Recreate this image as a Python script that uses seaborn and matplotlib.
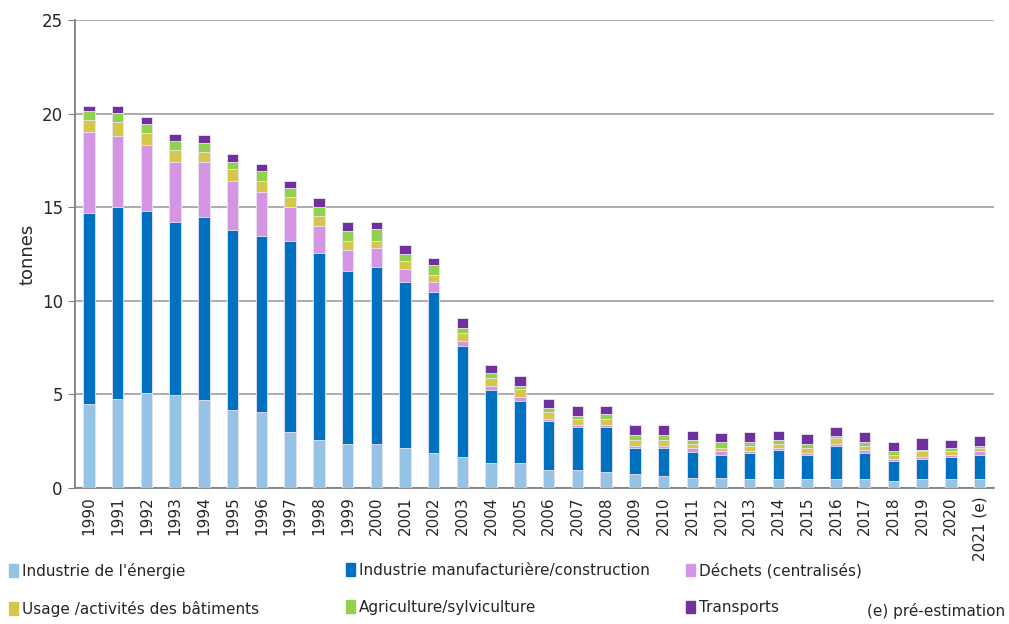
import matplotlib
matplotlib.use("Agg")
import matplotlib.pyplot as plt
import matplotlib.patches as mpatches
import numpy as np
import pandas as pd
import seaborn as sns

# Données (tonnes)
annees = ["1990", "1991", "1992", "1993", "1994", "1995", "1996", "1997", "1998", "1999",
          "2000", "2001", "2002", "2003", "2004", "2005", "2006", "2007", "2008", "2009",
          "2010", "2011", "2012", "2013", "2014", "2015", "2016", "2017", "2018", "2019",
          "2020", "2021 (e)"]

energie = [4.49, 4.77, 5.07, 4.99, 4.68, 4.17, 4.08, 2.97, 2.56, 2.35, 2.35, 2.15, 1.87,
           1.66, 1.35, 1.35, 0.94, 0.94, 0.85, 0.75, 0.64, 0.55, 0.55, 0.46, 0.46, 0.46,
           0.46, 0.46, 0.36, 0.46, 0.46, 0.46]
manufacturiere = [10.22, 10.22, 9.75, 9.20, 9.81, 9.63, 9.40, 10.22, 10.01, 9.24, 9.44, 8.84,
                  8.62, 5.91, 3.90, 3.31, 2.62, 2.32, 2.41, 1.40, 1.51, 1.39, 1.20, 1.39,
                  1.59, 1.29, 1.80, 1.39, 1.10, 1.09, 1.18, 1.29]
dechets = [4.32, 3.83, 3.51, 3.24, 2.94, 2.62, 2.33, 1.80, 1.44, 1.11, 1.01, 0.69, 0.50,
           0.30, 0.22, 0.20, 0.11, 0.11, 0.11, 0.11, 0.11, 0.21, 0.21, 0.11, 0.10, 0.10,
           0.11, 0.20, 0.09, 0.11, 0.11, 0.21]
batiments = [0.61, 0.72, 0.62, 0.61, 0.50, 0.60, 0.61, 0.55, 0.50, 0.51, 0.41, 0.43, 0.40,
             0.39, 0.39, 0.41, 0.41, 0.30, 0.30, 0.29, 0.29, 0.20, 0.19, 0.30, 0.22, 0.30,
             0.28, 0.21, 0.21, 0.30, 0.21, 0.19]
agriculture = [0.50, 0.48, 0.50, 0.48, 0.50, 0.39, 0.50, 0.47, 0.50, 0.50, 0.61, 0.39, 0.51,
               0.30, 0.30, 0.20, 0.19, 0.19, 0.30, 0.30, 0.30, 0.20, 0.31, 0.20, 0.19, 0.22,
               0.11, 0.20, 0.20, 0.09, 0.19, 0.11]
transports = [0.28, 0.40, 0.39, 0.41, 0.41, 0.42, 0.39, 0.41, 0.50, 0.50, 0.39, 0.50, 0.39,
              0.50, 0.41, 0.50, 0.48, 0.50, 0.39, 0.50, 0.50, 0.49, 0.49, 0.51, 0.50, 0.50,
              0.50, 0.51, 0.50, 0.62, 0.41, 0.50]

secteurs = ["Industrie de l'énergie", "Industrie manufacturière/construction",
            "Déchets (centralisés)", "Usage /activités des bâtiments",
            "Agriculture/sylviculture", "Transports"]
couleurs = ["#95C3E5", "#0070C0", "#D495E4", "#D4C74A", "#92D050", "#7030A0"]

df = pd.DataFrame({
    "annee": annees,
    secteurs[0]: energie,
    secteurs[1]: manufacturiere,
    secteurs[2]: dechets,
    secteurs[3]: batiments,
    secteurs[4]: agriculture,
    secteurs[5]: transports,
})
cumul = df[secteurs].cumsum(axis=1)

sns.set_style("white")
plt.rcParams["font.family"] = ["DejaVu Sans"]

fig = plt.figure(figsize=(10.09, 6.24), dpi=100)
ax = fig.add_axes([0.074, 0.218, 0.911, 0.750])

# barres empilées : on trace les cumuls du plus haut au plus bas
for i in range(len(secteurs) - 1, -1, -1):
    sns.barplot(x=df["annee"], y=cumul[secteurs[i]], color=couleurs[i], width=0.4,
                saturation=1, edgecolor="#EDE4F2", linewidth=0.6, ax=ax, zorder=3)

ax.set_xlim(-0.5, len(annees) - 0.5)
ax.set_ylim(0, 25)
ax.set_yticks([0, 5, 10, 15, 20, 25])
ax.yaxis.grid(True, color="#A6A6A6", linewidth=1.3, zorder=0)
ax.set_axisbelow(True)
ax.set_xlabel("")
ax.set_ylabel("tonnes", fontsize=13)

for s in ["top", "right"]:
    ax.spines[s].set_visible(False)
ax.spines["left"].set_color("#808080")
ax.spines["bottom"].set_color("#808080")
ax.spines["left"].set_linewidth(1.3)
ax.spines["bottom"].set_linewidth(1.3)

ax.set_xticks(range(len(annees)))
ax.set_xticklabels(annees, rotation=90, fontsize=11)
ax.tick_params(axis="x", which="major", length=0, pad=6)
ax.set_xticks(np.arange(-0.5, len(annees), 1), minor=True)
ax.tick_params(axis="x", which="minor", length=5, color="#404040", direction="out")
ax.tick_params(axis="y", length=5, color="#808080", labelsize=12, left=True)

# légende en trois colonnes
positions = [0.003, 0.337, 0.674]
for k in range(3):
    poignees = [mpatches.Patch(color=couleurs[k]), mpatches.Patch(color=couleurs[k + 3])]
    fig.legend(poignees, [secteurs[k], secteurs[k + 3]], loc="upper left",
               bbox_to_anchor=(positions[k], 0.108), frameon=False, fontsize=11,
               handlelength=0.6, handleheight=0.9, handletextpad=0.25, labelspacing=1.45,
               borderaxespad=0)

fig.text(0.996, 0.008, "(e) pré-estimation", ha="right", va="bottom", fontsize=11)

fig.savefig("out.png", dpi=100)
